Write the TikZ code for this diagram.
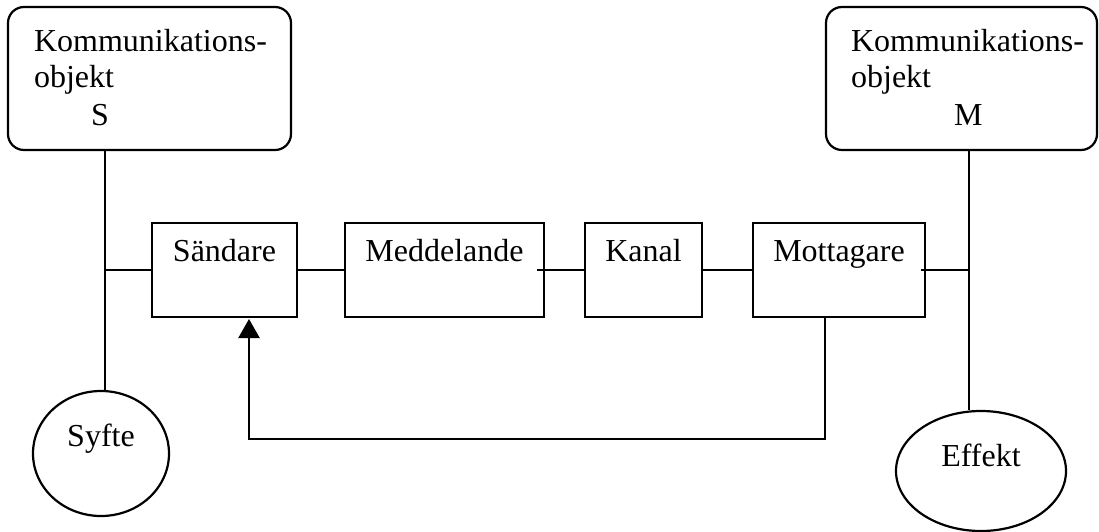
\documentclass[tikz,border=0pt]{standalone}
\usepackage{fontspec}
\setmainfont{Liberation Serif}
\usetikzlibrary{shapes.geometric,arrows.meta}
\begin{document}
\begin{tikzpicture}[x=1pt,y=-1pt,
  line width=2.2pt,
  every node/.style={font=\fontsize{32}{36.5}\selectfont},
  objbox/.style={draw,rounded corners=16pt,minimum width=#1,minimum height=143pt,inner sep=0pt},
  txt/.style={inner sep=0pt,anchor=base west},
  stagebox/.style={draw,inner xsep=0pt,inner ysep=0pt,outer sep=0pt,text height=38pt,text depth=56pt,minimum width=#1,anchor=north},
  goal/.style={draw,ellipse,inner sep=0pt},
  feedback/.style={-{Triangle[length=19pt,width=21pt]},shorten >=2pt}
]
\useasboundingbox (0,0) rectangle (1099,532);

% communication objects
\node[objbox=283pt] (objS) at (149.5,78.5) {};
\node[txt] (objSa) at (33,52) {Kommunikations-};
\node[txt] (objSb) at (33,88) {objekt};
\node[txt] (objSc) at (90,125) {S};

\node[objbox=271pt] (objM) at (961.5,78.5) {};
\node[txt] (objMa) at (850,52) {Kommunikations-};
\node[txt] (objMb) at (850,88) {objekt};
\node[txt] (objMc) at (953,125) {M};

% chain of stages
\node[stagebox=145pt] (snd) at (224.5,223) {Sändare};
\node[stagebox=199pt] (med) at (444.5,223) {Meddelande};
\node[stagebox=117pt] (kan) at (643.5,223) {Kanal};
\node[stagebox=172pt] (mot) at (839,223) {Mottagare};

% purpose and effect
\node[goal,minimum width=136pt,minimum height=125pt,text height=10pt,text depth=25pt] (syf) at (101,453.5) {Syfte};
\node[goal,minimum width=170pt,minimum height=120pt,text height=10pt,text depth=20pt] (eff) at (981,471) {Effekt};

% x positions of the two vertical lines, corner of the feedback line
\coordinate (jl) at (105,0);
\coordinate (jr) at (969,0);
\coordinate (fb) at (249,439);

\draw (jl |- objS.south) -- (jl |- syf.north);
\draw (jl |- snd.west) -- (snd.west);
\draw (snd.east) -- (med.west);
\draw ([xshift=-7pt]med.east) -- (kan.west);
\draw (kan.east) -- (mot.west);
\draw ([xshift=-4pt]mot.east) -- (jr |- mot.east);
\draw (jr |- objM.south) -- (jr |- eff.north);

% feedback from receiver to sender
\draw[feedback] ([xshift=-14pt]mot.south) |- (fb) -- (fb |- snd.south);
\end{tikzpicture}
\end{document}
